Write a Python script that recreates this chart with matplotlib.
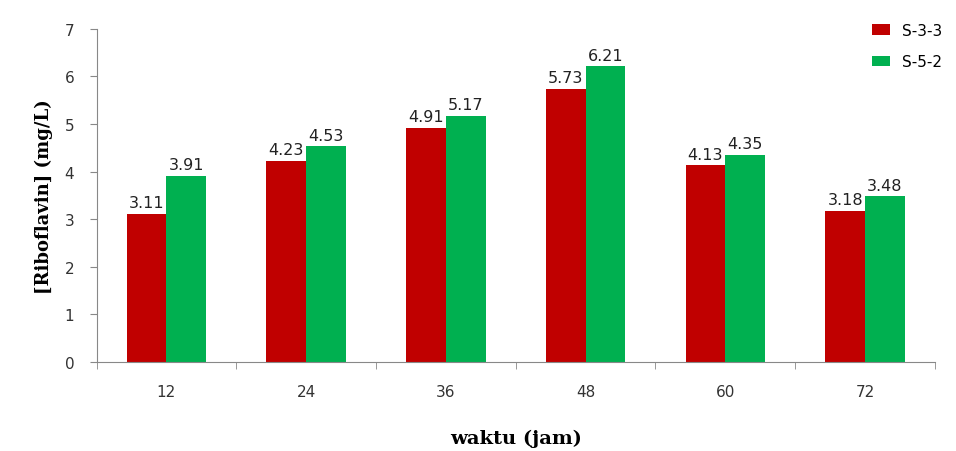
import numpy as np
import matplotlib
matplotlib.use("Agg")
import matplotlib.pyplot as plt

# data
waktu = ["12", "24", "36", "48", "60", "72"]
s33 = [3.11, 4.23, 4.91, 5.73, 4.13, 3.18]
s52 = [3.91, 4.53, 5.17, 6.21, 4.35, 3.48]
series_names = ["S-3-3", "S-5-2"]


def main():
    fig = plt.figure(figsize=(9.56, 4.52), dpi=100)
    ax = fig.add_axes([0.101, 0.197, 0.877, 0.737])

    x = np.arange(len(waktu))
    w = 0.285
    b1 = ax.bar(x - w / 2, s33, width=w, color="#C00000", label=series_names[0])
    b2 = ax.bar(x + w / 2, s52, width=w, color="#00B050", label=series_names[1])

    for bars, vals in ((b1, s33), (b2, s52)):
        for rect, v in zip(bars, vals):
            ax.text(rect.get_x() + rect.get_width() / 2, v + 0.08, f"{v:.2f}",
                    ha="center", va="bottom", fontsize=11.5, color="#222222")

    ax.set_xlim(-0.5, len(waktu) - 0.5)
    ax.set_ylim(0, 7)
    ax.set_yticks(range(0, 8))
    ax.set_xticks(x)
    ax.set_xticklabels(waktu)
    ax.set_xticks(np.arange(-0.5, len(waktu)), minor=True)
    ax.tick_params(axis="x", which="major", length=0, pad=16, labelsize=11, labelcolor="#333333")
    ax.tick_params(axis="x", which="minor", length=5, color="#888888")
    ax.tick_params(axis="y", length=5, color="#888888", pad=11, labelsize=11, labelcolor="#333333")

    for side in ("top", "right"):
        ax.spines[side].set_visible(False)
    for side in ("left", "bottom"):
        ax.spines[side].set_color("#888888")

    ax.set_xlabel("waktu (jam)", fontfamily="DejaVu Serif", fontweight="bold", fontsize=14, labelpad=21)
    ax.set_ylabel("[Riboflavin] (mg/L)", fontfamily="DejaVu Serif", fontweight="bold", fontsize=13, labelpad=8)

    ax.legend(loc="upper left", bbox_to_anchor=(0.908, 1.06), frameon=False, fontsize=11,
              handlelength=1.2, handleheight=0.7, labelspacing=1.1)

    fig.savefig("out.png", dpi=100)


if __name__ == "__main__":
    main()
